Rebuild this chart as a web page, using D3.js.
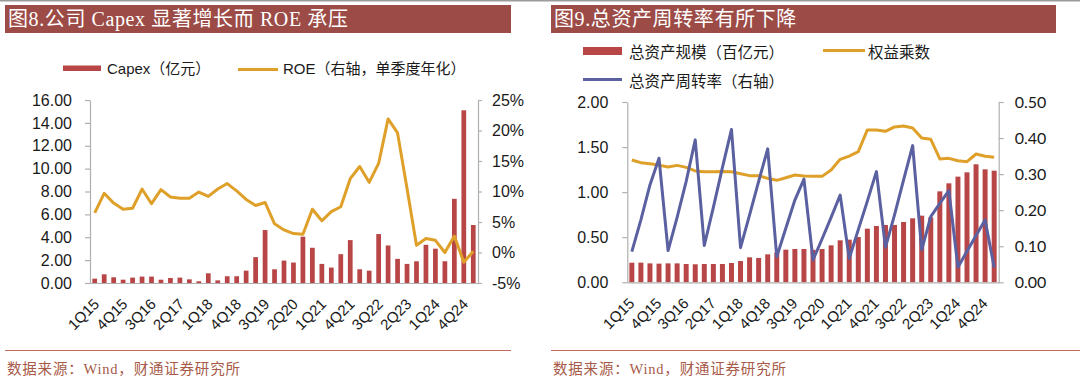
<!DOCTYPE html>
<html><head><meta charset="utf-8">
<script src="https://cdn.jsdelivr.net/npm/d3@7"></script>
<style>
html,body{margin:0;padding:0;background:#fff;}
svg{display:block;}
</style></head>
<body>
<svg id="c" width="1080" height="383"></svg>
<script>
const quarters = ["1Q15","2Q15","3Q15","4Q15","1Q16","2Q16","3Q16","4Q16","1Q17","2Q17","3Q17","4Q17","1Q18","2Q18","3Q18","4Q18","1Q19","2Q19","3Q19","4Q19","1Q20","2Q20","3Q20","4Q20","1Q21","2Q21","3Q21","4Q21","1Q22","2Q22","3Q22","4Q22","1Q23","2Q23","3Q23","4Q23","1Q24","2Q24","3Q24","4Q24","1Q25"];
const xTickLabels = ["1Q15","4Q15","3Q16","2Q17","1Q18","4Q18","3Q19","2Q20","1Q21","4Q21","3Q22","2Q23","1Q24","4Q24"];

// Chart 8
const capex = [0.38,0.76,0.50,0.29,0.47,0.56,0.56,0.29,0.44,0.47,0.32,0.15,0.85,0.23,0.59,0.59,1.08,2.26,4.63,1.20,1.96,1.79,4.05,3.08,1.67,1.35,2.52,3.75,1.20,1.08,4.28,3.28,2.11,1.67,1.90,3.34,3.00,1.90,7.36,15.1,5.07];
const roe = [6.5,9.7,8.1,7.1,7.25,10.4,8.0,10.3,9.1,8.9,8.9,9.9,9.2,10.4,11.3,10.1,8.7,7.7,8.2,4.7,3.7,3.1,3.0,7.1,5.2,6.7,7.5,12.1,14.1,11.5,14.6,21.9,19.6,10.5,1.2,2.3,2.0,0.0,2.7,-1.6,0.2];
const leftTicks8 = [0,2,4,6,8,10,12,14,16];
const rightTicks8 = [-5,0,5,10,15,20,25];

// Chart 9
const assets = [0.217,0.218,0.21,0.207,0.21,0.21,0.203,0.20,0.203,0.203,0.203,0.214,0.236,0.277,0.27,0.31,0.33,0.362,0.37,0.37,0.36,0.369,0.41,0.466,0.473,0.502,0.595,0.625,0.636,0.636,0.669,0.71,0.739,0.72,1.009,1.098,1.172,1.22,1.309,1.253,1.238];
const equityMult = [1.357,1.327,1.316,1.30,1.279,1.297,1.275,1.235,1.227,1.227,1.23,1.227,1.205,1.183,1.183,1.153,1.131,1.16,1.19,1.179,1.177,1.175,1.246,1.364,1.40,1.449,1.69,1.69,1.675,1.723,1.734,1.712,1.60,1.586,1.368,1.375,1.349,1.338,1.423,1.398,1.387];
const turnover = [0.085,0.173,0.27,0.344,0.088,0.18,0.28,0.395,0.102,0.208,0.318,0.424,0.096,0.187,0.28,0.37,0.071,0.15,0.228,0.286,0.062,0.12,0.18,0.242,0.066,0.146,0.225,0.307,0.097,0.187,0.284,0.379,0.09,0.182,0.219,0.254,0.042,0.086,0.13,0.173,0.041];
const leftTicks9 = [0,0.5,1,1.5,2];
const rightTicks9 = [0,0.1,0.2,0.3,0.4,0.5];

const BAR = "#b84646", ORANGE = "#dfa02a", BLUE = "#5a60a0", BANNER = "#9c4b46";
const AXIS = "#b0b0b0", TXT = "#1a1a1a";
const SANS = "'Liberation Sans', Arial, 'Noto Sans CJK SC', sans-serif";
const SERIF = "'Liberation Serif', 'Noto Sans CJK SC', serif";

const svg = d3.select("#c");

// top grey rule
svg.append("line").attr("x1",0).attr("x2",1080).attr("y1",0.75).attr("y2",0.75)
  .attr("stroke","#9a9a9a").attr("stroke-width",1.5);

function panelChrome(x0, x1, title, footX1) {
  svg.append("rect").attr("x",x0).attr("y",5).attr("width",x1-x0).attr("height",28).attr("fill",BANNER);
  svg.append("text").attr("x",x0+3).attr("y",26).attr("fill","#fff")
    .attr("font-family",SERIF).attr("font-size",20).attr("letter-spacing",0.6).text(title);
  svg.append("line").attr("x1",x0).attr("x2",footX1).attr("y1",350.5).attr("y2",350.5)
    .attr("stroke","#c06a60").attr("stroke-width",1.2);
  svg.append("text").attr("x",x0+2).attr("y",374).attr("fill","#a85a48")
    .attr("font-family",SERIF).attr("font-size",14.5).attr("letter-spacing",0.8)
    .text("数据来源：Wind，财通证券研究所");
}
panelChrome(5, 511, "图8.公司 Capex 显著增长而 ROE 承压", 511);
panelChrome(551, 1056, "图9.总资产周转率有所下降", 1080);

function styleAxis(g){
  g.select(".domain").attr("stroke",AXIS).attr("stroke-width",1.2);
  g.selectAll(".tick line").attr("stroke",AXIS).attr("stroke-width",1.2);
  g.selectAll(".tick text").attr("fill",TXT);
}

function xAxis(x, y0, dx) {
  const g = svg.append("g").attr("transform",`translate(0,${y0})`)
    .call(d3.axisBottom(x).tickValues(xTickLabels).tickSize(0).tickSizeOuter(0));
  g.select(".domain").attr("stroke",AXIS).attr("stroke-width",1.2);
  g.selectAll(".tick text").attr("fill",TXT)
    .attr("font-family",SANS).attr("font-size",15)
    .attr("text-anchor","end").attr("dy",0).attr("y",0)
    .attr("transform",`translate(${dx},22) rotate(-45)`);
}

// ---------- Chart 8 ----------
{
  const top = 100, bot = 283, L = 90, R = 478;
  const x = d3.scaleBand().domain(quarters).range([L,R]).paddingInner(0.5).paddingOuter(0.25);
  const yL = d3.scaleLinear().domain([0,16]).range([bot,top]);
  const yR = d3.scaleLinear().domain([-5,25]).range([bot,top]);

  svg.append("g").selectAll("rect").data(capex).join("rect")
    .attr("x",(d,i)=>x(quarters[i])).attr("width",x.bandwidth())
    .attr("y",d=>yL(d)).attr("height",d=>yL(0)-yL(d)).attr("fill",BAR);

  const line = d3.line().x((d,i)=>x(quarters[i])+x.bandwidth()/2).y(d=>yR(d));
  svg.append("path").datum(roe).attr("d",line).attr("fill","none")
    .attr("stroke",ORANGE).attr("stroke-width",3).attr("stroke-linejoin","round");

  const gl = svg.append("g").attr("transform",`translate(${L},0)`)
    .call(d3.axisLeft(yL).tickValues(leftTicks8).tickFormat(d3.format(".2f")).tickSize(5).tickSizeOuter(0).tickPadding(13));
  styleAxis(gl); gl.selectAll(".tick text").attr("font-family",SANS).attr("font-size",16);
  const gr = svg.append("g").attr("transform",`translate(${R},0)`)
    .call(d3.axisRight(yR).tickValues(rightTicks8).tickFormat(d=>d+"%").tickSize(4).tickSizeOuter(0).tickPadding(10));
  styleAxis(gr); gr.selectAll(".tick text").attr("font-family",SANS).attr("font-size",16);

  xAxis(x, bot, x.bandwidth()/2+3);

  // legend
  svg.append("rect").attr("x",63).attr("y",65.5).attr("width",38).attr("height",5.5).attr("fill",BAR);
  svg.append("text").attr("x",107).attr("y",74).attr("font-family",SANS).attr("font-size",15).attr("fill",TXT).text("Capex（亿元）");
  svg.append("line").attr("x1",238).attr("x2",278).attr("y1",69.5).attr("y2",69.5).attr("stroke",ORANGE).attr("stroke-width",3);
  svg.append("text").attr("x",283).attr("y",74).attr("font-family",SANS).attr("font-size",15).attr("fill",TXT).text("ROE（右轴，单季度年化）");
}

// ---------- Chart 9 ----------
{
  const top = 102, bot = 282.3, L = 627.3, R = 998.7;
  const x = d3.scaleBand().domain(quarters).range([L,R]).paddingInner(0.45).paddingOuter(0.225);
  const yL = d3.scaleLinear().domain([0,2]).range([bot,top]);
  const yR = d3.scaleLinear().domain([0,0.5]).range([bot,top]);

  svg.append("g").selectAll("rect").data(assets).join("rect")
    .attr("x",(d,i)=>x(quarters[i])).attr("width",x.bandwidth())
    .attr("y",d=>yL(d)).attr("height",d=>yL(0)-yL(d)).attr("fill",BAR);

  const cx = (d,i)=>x(quarters[i])+x.bandwidth()/2;
  svg.append("path").datum(equityMult).attr("d",d3.line().x(cx).y(d=>yL(d))).attr("fill","none")
    .attr("stroke",ORANGE).attr("stroke-width",3).attr("stroke-linejoin","round");
  svg.append("path").datum(turnover).attr("d",d3.line().x(cx).y(d=>yR(d))).attr("fill","none")
    .attr("stroke",BLUE).attr("stroke-width",3).attr("stroke-linejoin","round");

  const gl = svg.append("g").attr("transform",`translate(${L},0)`)
    .call(d3.axisLeft(yL).tickValues(leftTicks9).tickFormat(d3.format(".2f")).tickSize(5).tickSizeOuter(0).tickPadding(14));
  styleAxis(gl); gl.selectAll(".tick text").attr("font-family",SANS).attr("font-size",16);
  const gr = svg.append("g").attr("transform",`translate(${R},0)`)
    .call(d3.axisRight(yR).tickValues(rightTicks9).tickFormat(d3.format(".2f")).tickSize(5).tickSizeOuter(0).tickPadding(11));
  styleAxis(gr); gr.selectAll(".tick text").attr("font-family","Lato, 'Open Sans', sans-serif").attr("font-size",16);

  xAxis(x, bot, x.bandwidth()/2+1);

  // legend
  svg.append("rect").attr("x",583).attr("y",47).attr("width",39).attr("height",8).attr("fill",BAR);
  svg.append("text").attr("x",629).attr("y",58).attr("font-family",SANS).attr("font-size",15.5).attr("fill",TXT).text("总资产规模（百亿元）");
  svg.append("line").attr("x1",823).attr("x2",865).attr("y1",50.5).attr("y2",50.5).attr("stroke",ORANGE).attr("stroke-width",3);
  svg.append("text").attr("x",868).attr("y",58).attr("font-family",SANS).attr("font-size",15.5).attr("fill",TXT).text("权益乘数");
  svg.append("line").attr("x1",583).attr("x2",622).attr("y1",79.5).attr("y2",79.5).attr("stroke",BLUE).attr("stroke-width",3);
  svg.append("text").attr("x",629).attr("y",86.5).attr("font-family",SANS).attr("font-size",15.5).attr("fill",TXT).text("总资产周转率（右轴）");
}
</script>
</body></html>
